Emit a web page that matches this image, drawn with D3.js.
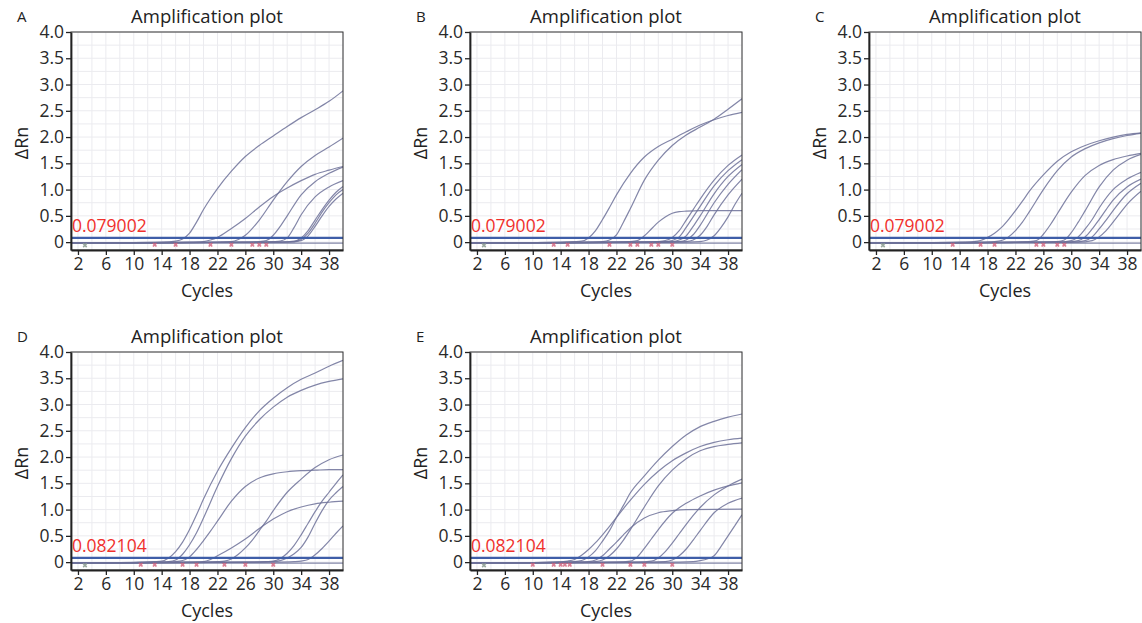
<!DOCTYPE html>
<html>
<head>
<meta charset="utf-8">
<script src="https://cdn.jsdelivr.net/npm/d3@7"></script>
<style>
  body { margin: 0; background: #fff; }
  svg { display: block; font-family: "Open Sans", sans-serif; }
</style>
</head>
<body>
<div class="chart"></div>
<script>
// tick values / labels
var xTicks = [2, 6, 10, 14, 18, 22, 26, 30, 34, 38];
var yTicks = [0, 0.5, 1, 1.5, 2, 2.5, 3, 3.5, 4];
var yTickLabels = ["0", "0.5", "1.0", "1.5", "2.0", "2.5", "3.0", "3.5", "4.0"];

var panelLetters = ["A", "B", "C", "D", "E"];
var thresholds = [0.079002, 0.079002, 0.079002, 0.082104, 0.082104];
var thresholdLabels = ["0.079002", "0.079002", "0.079002", "0.082104", "0.082104"];

// amplification curves, [cycle, dRn]
var curvesA = [
  [[1,-0.02],[14,0],[16,0.02],[17,0.06],[18,0.17],[19,0.38],[20,0.62],[21,0.83],[22,1.02],[24,1.35],[26,1.63],[28,1.84],[30,2.02],[32,2.2],[34,2.37],[36,2.52],[38,2.68],[40,2.88]],
  [[1,-0.02],[18,0],[20,0.01],[21,0.04],[22,0.09],[24,0.26],[26,0.45],[28,0.67],[30,0.87],[32,1.03],[34,1.17],[36,1.29],[38,1.37],[40,1.44]],
  [[1,-0.02],[22,0],[24,0.01],[25,0.05],[26,0.13],[28,0.42],[30,0.8],[32,1.15],[34,1.44],[36,1.65],[38,1.81],[40,1.98]],
  [[1,-0.02],[26,0],[28,0.01],[29,0.03],[30,0.13],[31,0.3],[32,0.5],[34,0.9],[36,1.15],[38,1.31],[40,1.43]],
  [[1,-0.02],[28,0],[30,0.01],[31,0.02],[32,0.08],[33,0.28],[34,0.52],[36,0.86],[38,1.05],[40,1.17]],
  [[1,-0.02],[31,0],[33,0.02],[34,0.08],[35,0.22],[36,0.42],[37,0.62],[38,0.8],[39,0.95],[40,1.06]],
  [[1,-0.02],[31,0],[33,0.01],[34,0.05],[35,0.17],[36,0.36],[37,0.57],[38,0.75],[39,0.9],[40,1.0]],
  [[1,-0.02],[32,0],[34,0.03],[35,0.12],[36,0.3],[37,0.5],[38,0.68],[39,0.82],[40,0.93]],
  [[1,-0.02],[40,-0.02]]
];
var curvesB = [
  [[1,-0.02],[14,0],[16,0.01],[17,0.02],[18,0.08],[19,0.22],[20,0.43],[21,0.66],[22,0.9],[24,1.31],[26,1.62],[28,1.82],[30,1.96],[32,2.1],[34,2.23],[36,2.33],[38,2.41],[40,2.47]],
  [[1,-0.02],[18,0],[20,0.01],[21,0.04],[22,0.14],[23,0.38],[24,0.64],[26,1.18],[28,1.56],[30,1.84],[32,2.04],[34,2.19],[36,2.34],[38,2.53],[40,2.73]],
  [[1,-0.02],[22,0],[24,0.01],[25,0.03],[26,0.12],[27,0.25],[28,0.38],[29,0.48],[30,0.55],[31,0.58],[32,0.59],[34,0.6],[40,0.6]],
  [[1,-0.02],[26,0],[28,0.01],[29,0.03],[30,0.09],[31,0.22],[32,0.42],[33,0.62],[34,0.82],[36,1.18],[38,1.46],[40,1.66]],
  [[1,-0.02],[27,0],[29,0.01],[30,0.03],[31,0.1],[32,0.28],[33,0.48],[34,0.68],[36,1.07],[38,1.36],[40,1.57]],
  [[1,-0.02],[28,0],[30,0.01],[31,0.04],[32,0.12],[33,0.3],[34,0.5],[36,0.92],[38,1.25],[40,1.48]],
  [[1,-0.02],[29,0],[31,0.01],[32,0.04],[33,0.14],[34,0.32],[36,0.75],[38,1.1],[40,1.38]],
  [[1,-0.02],[30,0],[32,0.01],[33,0.04],[34,0.13],[35,0.3],[36,0.52],[38,0.9],[40,1.2]],
  [[1,-0.02],[32,0],[34,0.01],[35,0.04],[36,0.12],[37,0.28],[38,0.48],[39,0.72],[40,0.93]],
  [[1,-0.02],[40,-0.02]]
];
var curvesC = [
  [[1,-0.02],[14,0],[16,0.01],[17,0.03],[18,0.09],[19,0.17],[20,0.28],[21,0.43],[22,0.6],[23,0.78],[24,0.97],[26,1.28],[28,1.54],[30,1.72],[32,1.84],[34,1.93],[36,2.0],[38,2.05],[40,2.08]],
  [[1,-0.02],[17,0],[19,0.01],[20,0.03],[21,0.1],[22,0.22],[23,0.38],[24,0.58],[26,1.0],[28,1.36],[30,1.62],[32,1.78],[34,1.89],[36,1.97],[38,2.03],[40,2.07]],
  [[1,-0.02],[22,0],[24,0.01],[25,0.03],[26,0.15],[27,0.33],[28,0.54],[30,0.95],[32,1.27],[34,1.46],[36,1.57],[38,1.64],[40,1.69]],
  [[1,-0.02],[26,0],[28,0.01],[29,0.04],[30,0.18],[31,0.38],[32,0.6],[34,1.05],[36,1.37],[38,1.56],[40,1.67]],
  [[1,-0.02],[28,0],[30,0.03],[31,0.1],[32,0.25],[33,0.43],[34,0.65],[36,1.0],[38,1.2],[40,1.33]],
  [[1,-0.02],[29,0],[31,0.03],[32,0.1],[33,0.25],[34,0.43],[35,0.62],[36,0.8],[38,1.05],[40,1.2]],
  [[1,-0.02],[30,0],[32,0.03],[33,0.1],[34,0.25],[35,0.42],[36,0.6],[38,0.92],[40,1.12]],
  [[1,-0.02],[31,0],[33,0.03],[34,0.1],[35,0.22],[36,0.38],[37,0.55],[38,0.72],[40,0.97]],
  [[1,-0.02],[40,-0.02]]
];
var curvesD = [
  [[1,-0.02],[11,0],[13,0.01],[14,0.02],[15,0.08],[16,0.2],[17,0.38],[18,0.62],[19,0.9],[20,1.2],[22,1.73],[24,2.17],[26,2.56],[28,2.88],[30,3.12],[32,3.32],[34,3.48],[36,3.6],[38,3.73],[40,3.84]],
  [[1,-0.02],[13,0],[15,0.01],[16,0.04],[17,0.15],[18,0.33],[19,0.56],[20,0.84],[22,1.44],[24,1.97],[26,2.4],[28,2.71],[30,2.95],[32,3.14],[34,3.27],[36,3.37],[38,3.44],[40,3.49]],
  [[1,-0.02],[14,0],[16,0.01],[17,0.03],[18,0.1],[19,0.24],[20,0.41],[21,0.59],[22,0.78],[24,1.16],[26,1.44],[28,1.6],[30,1.68],[32,1.72],[34,1.74],[36,1.75],[38,1.76],[40,1.76]],
  [[1,-0.02],[20,0],[22,0.01],[23,0.02],[24,0.06],[25,0.15],[26,0.27],[27,0.42],[28,0.6],[29,0.78],[30,0.98],[32,1.33],[34,1.58],[36,1.8],[38,1.95],[40,2.04]],
  [[1,-0.02],[18,0],[20,0.01],[21,0.05],[22,0.12],[24,0.27],[26,0.44],[28,0.64],[30,0.82],[32,0.96],[34,1.05],[36,1.11],[38,1.14],[40,1.16]],
  [[1,-0.02],[27,0],[29,0.01],[30,0.02],[31,0.07],[32,0.17],[33,0.32],[34,0.52],[35,0.74],[36,0.96],[37,1.16],[38,1.33],[39,1.5],[40,1.66]],
  [[1,-0.02],[28,0],[30,0.01],[31,0.03],[32,0.08],[33,0.16],[34,0.28],[35,0.48],[36,0.74],[37,0.98],[38,1.18],[39,1.32],[40,1.44]],
  [[1,-0.02],[30,0],[33,0.01],[34,0.02],[35,0.05],[36,0.14],[37,0.26],[38,0.4],[39,0.55],[40,0.69]],
  [[1,-0.02],[40,-0.02]]
];
var curvesE = [
  [[1,-0.02],[14,0],[16,0.01],[17,0.03],[18,0.1],[19,0.22],[20,0.4],[21,0.6],[22,0.85],[23,1.08],[24,1.32],[26,1.64],[28,1.94],[30,2.2],[32,2.42],[34,2.58],[36,2.68],[38,2.76],[40,2.82]],
  [[1,-0.02],[13,0],[15,0.02],[16,0.05],[17,0.13],[18,0.24],[19,0.37],[20,0.52],[21,0.68],[22,0.85],[23,1.02],[24,1.18],[26,1.48],[28,1.73],[30,1.93],[32,2.08],[34,2.2],[36,2.28],[38,2.33],[40,2.36]],
  [[1,-0.02],[17,0],[19,0.01],[20,0.04],[21,0.12],[22,0.25],[23,0.42],[24,0.62],[26,1.05],[28,1.45],[30,1.75],[32,1.97],[34,2.12],[36,2.2],[38,2.24],[40,2.27]],
  [[1,-0.02],[16,0],[18,0.01],[19,0.04],[20,0.12],[21,0.25],[22,0.38],[23,0.52],[24,0.65],[26,0.84],[28,0.94],[30,0.98],[32,1.0],[40,1.01]],
  [[1,-0.02],[22,0],[24,0.02],[25,0.1],[26,0.26],[27,0.44],[28,0.62],[30,0.93],[32,1.12],[34,1.26],[36,1.37],[38,1.45],[40,1.51]],
  [[1,-0.02],[25,0],[27,0.02],[28,0.08],[29,0.2],[30,0.36],[31,0.54],[32,0.72],[34,1.04],[36,1.28],[38,1.45],[40,1.58]],
  [[1,-0.02],[27,0],[29,0.01],[30,0.04],[31,0.12],[32,0.25],[33,0.42],[34,0.6],[36,0.94],[38,1.12],[40,1.22]],
  [[1,-0.02],[31,0],[33,0.01],[34,0.03],[35,0.06],[36,0.12],[37,0.3],[38,0.5],[39,0.7],[40,0.9]],
  [[1,-0.02],[40,-0.02]]
];

// baseline markers (cycle numbers) under the curves
var markersA = [13, 16, 21, 24, 27, 28, 29];
var markersB = [13, 15, 21, 24, 25, 27, 28, 30];
var markersC = [13, 17, 19, 25, 26, 28, 29];
var markersD = [11, 13, 17, 19, 23, 26, 30];
var markersE = [10, 13, 14, 14.6, 15.3, 20, 24, 26, 30];
var greyMarker = 3;

var allCurves = [curvesA, curvesB, curvesC, curvesD, curvesE];
var allMarkers = [markersA, markersB, markersC, markersD, markersE];

var svgWidth = 1142;
var svgHeight = 623;
var plotW = 272, plotH = 218;
var colLeft = [71, 470, 869];
var rowTop = [32, 352];

var svg = d3.select(".chart")
  .append("svg")
  .attr("width", svgWidth)
  .attr("height", svgHeight);

var line = d3.line()
  .x(function(d) { return d.x })
  .y(function(d) { return d.y })
  .curve(d3.curveMonotoneX);

panelLetters.forEach(function(letter, i) {
  var left = colLeft[i % 3];
  var top = rowTop[Math.floor(i / 3)];

  var x = d3.scaleLinear().domain([1, 40]).range([left, left + plotW]);
  var y = d3.scaleLinear().domain([-0.15, 4]).range([top + plotH, top]);

  var g = svg.append("g");

  // grid
  g.append("g").selectAll("line.gx")
    .data(d3.range(2, 41, 2))
    .enter().append("line")
    .attr("x1", function(d) { return x(d) }).attr("x2", function(d) { return x(d) })
    .attr("y1", top).attr("y2", top + plotH)
    .attr("stroke", "#ebebef").attr("stroke-width", 1);
  g.append("g").selectAll("line.gy")
    .data(d3.range(0, 4.01, 0.25))
    .enter().append("line")
    .attr("x1", left).attr("x2", left + plotW)
    .attr("y1", function(d) { return y(d) }).attr("y2", function(d) { return y(d) })
    .attr("stroke", "#ebebef").attr("stroke-width", 1);

  // curves
  var clipId = "clip" + i;
  svg.append("clipPath").attr("id", clipId)
    .append("rect").attr("x", left).attr("y", top).attr("width", plotW).attr("height", plotH);

  var cg = g.append("g").attr("clip-path", "url(#" + clipId + ")");

  cg.selectAll("path.curve")
    .data(allCurves[i])
    .enter().append("path")
    .attr("d", function(c) {
      return line(c.map(function(p) { return {x: x(p[0]), y: y(p[1])} }));
    })
    .attr("fill", "none")
    .attr("stroke", "#6d7199")
    .attr("stroke-opacity", 0.85)
    .attr("stroke-width", 1.2);

  // threshold
  cg.append("line")
    .attr("x1", left).attr("x2", left + plotW)
    .attr("y1", y(thresholds[i])).attr("y2", y(thresholds[i]))
    .attr("stroke", "#3f5ea8").attr("stroke-width", 2.2);

  // baseline markers
  var sym = d3.symbol().type(d3.symbolCross).size(14);
  cg.selectAll("path.mk")
    .data(allMarkers[i])
    .enter().append("path")
    .attr("d", sym)
    .attr("transform", function(d) { return "translate(" + x(d) + "," + (y(-0.05)) + ") rotate(45)" })
    .attr("fill", "#d2607a").attr("opacity", 0.8);
  cg.append("path")
    .attr("d", sym)
    .attr("transform", "translate(" + x(greyMarker) + "," + y(-0.06) + ") rotate(45)")
    .attr("fill", "#8fa095").attr("opacity", 0.9);

  // frame
  g.append("rect")
    .attr("x", left).attr("y", top).attr("width", plotW).attr("height", plotH)
    .attr("fill", "none").attr("stroke", "#333").attr("stroke-width", 1);

  // axes
  var yAxis = g.append("g")
    .attr("transform", "translate(" + left + ",0)")
    .call(d3.axisLeft(y).tickValues(yTicks)
      .tickFormat(function(d, k) { return yTickLabels[k] })
      .tickSize(5).tickSizeOuter(0).tickPadding(2));
  var xAxis = g.append("g")
    .attr("transform", "translate(0," + (top + plotH) + ")")
    .call(d3.axisBottom(x).tickValues(xTicks).tickSize(5).tickSizeOuter(0).tickPadding(3));

  [yAxis, xAxis].forEach(function(a) {
    a.select(".domain").attr("stroke", "#222").attr("stroke-width", 1.8);
    a.selectAll(".tick line").attr("stroke", "#222").attr("stroke-width", 1.3);
    a.selectAll(".tick text")
      .attr("fill", "#2a2a2a")
      .style("font-family", "'Open Sans', sans-serif")
      .style("font-size", "17.5px");
  });

  // threshold label
  g.append("text")
    .attr("x", left + 1).attr("y", y(thresholds[i]) - 6)
    .attr("fill", "#f0302c")
    .style("font-size", "17.5px")
    .text(thresholdLabels[i]);

  // titles
  g.append("text")
    .attr("x", left + plotW / 2).attr("y", top - 9)
    .attr("text-anchor", "middle")
    .attr("fill", "#222")
    .style("font-size", "18.5px")
    .text("Amplification plot");

  g.append("text")
    .attr("x", left - 54).attr("y", top - 10)
    .attr("fill", "#222")
    .style("font-size", "15px")
    .text(letter);

  g.append("text")
    .attr("x", left + plotW / 2).attr("y", top + plotH + 47)
    .attr("text-anchor", "middle")
    .attr("fill", "#222")
    .style("font-size", "18px")
    .text("Cycles");

  g.append("text")
    .attr("transform", "translate(" + (left - 43) + "," + (top + plotH / 2 + 2) + ") rotate(-90)")
    .attr("text-anchor", "middle")
    .attr("fill", "#222")
    .style("font-size", "18px")
    .text("ΔRn");
});
</script>
</body>
</html>
